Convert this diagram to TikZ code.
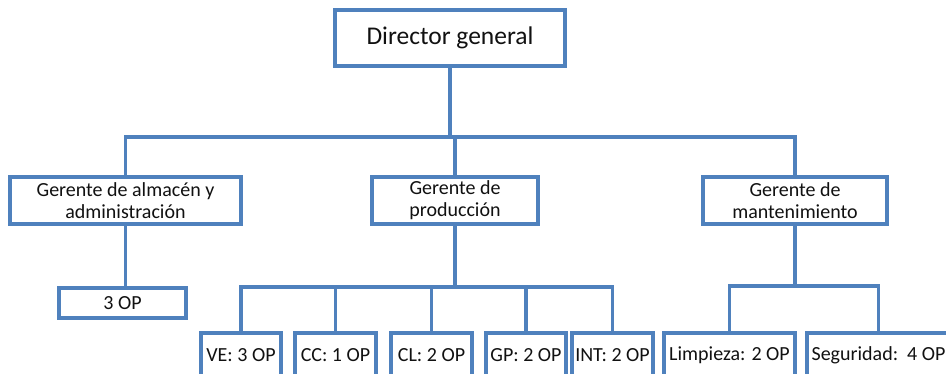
\documentclass[tikz,border=0pt]{standalone}
\usepackage{fontspec}
\setmainfont{Carlito}
\definecolor{lineblue}{HTML}{4F81BD}
\definecolor{txt}{HTML}{111111}
\begin{document}
\begin{tikzpicture}[x=1pt,y=-1pt,
  box/.style={draw=lineblue, line width=3.2pt, fill=white, inner sep=0pt, text=txt,
    font=\fontsize{20}{22}\selectfont, align=center},
  conn/.style={draw=lineblue, line width=3.2pt}]
\useasboundingbox (0,0) rectangle (946,373);
\clip (0,0) rectangle (946,373);
% nodes
\node[box, minimum width=230, minimum height=56, font=\fontsize{25.5}{28}\selectfont] (dir) at (450,38) {Director general};
\node[box, minimum width=231, minimum height=47] (ga) at (125.5,200.5) {Gerente de almacén y\\administración};
\node[box, minimum width=166, minimum height=47] (gp) at (455,200.5) {Gerente de\\producción};
\node[box, minimum width=184, minimum height=47] (gm) at (795,200.5) {Gerente de\\mantenimiento};
\node[box, minimum width=127, minimum height=30] (op3) at (122.5,303) {3 OP};
\node[box, minimum width=80, minimum height=44] (ve) at (241,355) {VE: 3 OP};
\node[box, minimum width=81, minimum height=44] (cc) at (335.5,355) {CC: 1 OP};
\node[box, minimum width=81, minimum height=44] (cl) at (431.5,355) {CL: 2 OP};
\node[box, minimum width=80, minimum height=44] (gpp) at (526,355) {GP: 2 OP};
\node[box, minimum width=81, minimum height=44] (int) at (612.5,355) {INT: 2 OP};
\node[box, minimum width=131, minimum height=44] (limp) at (729.5,355) {Limpieza: 2 OP};
\node[box, minimum width=143, minimum height=44] (seg) at (878.5,355) {Seguridad:\ \ 4 OP};
% bus coordinates
\coordinate (b1) at (450,137);
\coordinate (b2) at (455,287);
\coordinate (b3) at (795,286);
% connectors
\draw[conn] (dir.south) -- (b1);
\draw[conn] (b1) -| (ga.north);
\draw[conn] (b1) -| (gm.north);
\draw[conn] (b1 -| gp.north) -- (gp.north);
\draw[conn] (ga.south) -- (ga.south |- op3.north);
\draw[conn] (gp.south) -- (b2);
\draw[conn] (b2) -| (ve.north);
\draw[conn] (b2) -| (int.north);
\draw[conn] (b2 -| cc.north) -- (cc.north);
\draw[conn] (b2 -| cl.north) -- (cl.north);
\draw[conn] (b2 -| gpp.north) -- (gpp.north);
\draw[conn] (gm.south) -- (b3);
\draw[conn] (b3) -| (limp.north);
\draw[conn] (b3) -| (seg.north);
\end{tikzpicture}
\end{document}
